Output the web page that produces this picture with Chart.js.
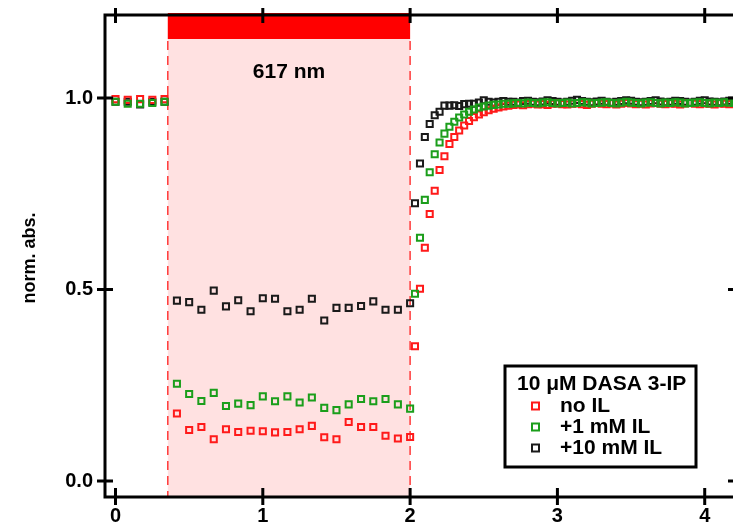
<!DOCTYPE html>
<html><head><meta charset="utf-8">
<script src="https://cdn.jsdelivr.net/npm/chart.js@4.4.1/dist/chart.umd.min.js"></script>
<style>html,body{margin:0;padding:0;background:#fff;overflow:hidden}#wrap{width:733px;height:524px;position:relative}</style>
</head><body><div id="wrap"><canvas id="c" width="733" height="524"></canvas></div>
<script>
// ---- data ----
const preTime = [0, 0.083, 0.167, 0.25, 0.333];
const darkTime = [0.417, 0.5, 0.583, 0.667, 0.75, 0.833, 0.917, 1.0, 1.083, 1.167,
  1.25, 1.333, 1.417, 1.5, 1.583, 1.667, 1.75, 1.833, 1.917, 2.0];
const recTime = [2.033, 2.067, 2.1, 2.133, 2.167, 2.2, 2.233, 2.267, 2.3, 2.333,
  2.367, 2.4, 2.433, 2.467, 2.5, 2.533, 2.567, 2.6, 2.633, 2.667,
  2.7, 2.733, 2.767, 2.8, 2.833, 2.867, 2.9, 2.933, 2.967, 3.0,
  3.033, 3.067, 3.1, 3.133, 3.167, 3.2, 3.233, 3.267, 3.3, 3.333,
  3.367, 3.4, 3.433, 3.467, 3.5, 3.533, 3.567, 3.6, 3.633, 3.667,
  3.7, 3.733, 3.767, 3.8, 3.833, 3.867, 3.9, 3.933, 3.967, 4.0,
  4.033, 4.067, 4.1, 4.133, 4.167, 4.2];

const noIL_pre = [0.997, 0.995, 0.997, 0.995, 0.997];
const noIL_dark = [0.176, 0.133, 0.141, 0.109, 0.135, 0.128, 0.131, 0.13, 0.127, 0.128,
  0.135, 0.144, 0.114, 0.109, 0.154, 0.141, 0.141, 0.118, 0.111, 0.115];
const noIL_rec = [0.352, 0.502, 0.609, 0.697, 0.758, 0.812, 0.848, 0.880, 0.898, 0.915,
  0.928, 0.940, 0.950, 0.957, 0.963, 0.968, 0.972, 0.975, 0.978, 0.980,
  0.982, 0.983, 0.981, 0.984, 0.985, 0.983, 0.984, 0.982, 0.985, 0.986,
  0.984, 0.983, 0.985, 0.986, 0.984, 0.982, 0.985, 0.987, 0.985, 0.984,
  0.986, 0.983, 0.985, 0.987, 0.986, 0.984, 0.985, 0.983, 0.986, 0.987,
  0.985, 0.984, 0.986, 0.985, 0.983, 0.986, 0.987, 0.985, 0.984, 0.986,
  0.985, 0.983, 0.986, 0.985, 0.984, 0.986];

const mM1_pre = [0.99, 0.985, 0.985, 0.987, 0.99];
const mM1_dark = [0.254, 0.227, 0.209, 0.23, 0.196, 0.202, 0.198, 0.221, 0.208, 0.221,
  0.205, 0.218, 0.191, 0.185, 0.2, 0.214, 0.208, 0.214, 0.2, 0.189];
const mM1_rec = [0.489, 0.635, 0.734, 0.806, 0.853, 0.884, 0.907, 0.925, 0.938, 0.949,
  0.957, 0.964, 0.970, 0.975, 0.978, 0.980, 0.982, 0.983, 0.985, 0.985,
  0.986, 0.987, 0.986, 0.988, 0.987, 0.986, 0.988, 0.989, 0.987, 0.986,
  0.987, 0.988, 0.986, 0.987, 0.989, 0.988, 0.986, 0.987, 0.988, 0.989,
  0.987, 0.986, 0.988, 0.99, 0.988, 0.987, 0.986, 0.988, 0.989, 0.987,
  0.986, 0.988, 0.987, 0.989, 0.988, 0.986, 0.987, 0.988, 0.989, 0.987,
  0.986, 0.988, 0.987, 0.989, 0.988, 0.987];

const mM10_pre = [0.99, 0.99, 0.983, 0.99, 0.99];
const mM10_dark = [0.471, 0.467, 0.447, 0.497, 0.456, 0.472, 0.443, 0.477, 0.476, 0.443,
  0.447, 0.476, 0.419, 0.452, 0.452, 0.457, 0.469, 0.447, 0.447, 0.464];
const mM10_rec = [0.725, 0.829, 0.898, 0.932, 0.955, 0.964, 0.980, 0.980, 0.981, 0.979,
  0.984, 0.985, 0.985, 0.988, 0.994, 0.990, 0.988, 0.990, 0.992, 0.990,
  0.99, 0.988, 0.992, 0.993, 0.99, 0.989, 0.991, 0.994, 0.992, 0.99,
  0.988, 0.99, 0.993, 0.995, 0.992, 0.99, 0.989, 0.991, 0.993, 0.99,
  0.988, 0.99, 0.992, 0.994, 0.993, 0.99, 0.989, 0.99, 0.992, 0.994,
  0.991, 0.989, 0.99, 0.993, 0.992, 0.99, 0.988, 0.99, 0.993, 0.994,
  0.991, 0.99, 0.989, 0.991, 0.993, 0.99];

const xTicks = [0, 1, 2, 3, 4];
const yTicks = [0.0, 0.5, 1.0];
const seriesLabels = ['no IL', '+1 mM IL', '+10 mM IL'];
const legendTitle = '10 \u03bcM DASA 3-IP';
const bandLabel = '617 nm';
const yTitle = 'norm. abs.';
const illumStart = 0.355, illumEnd = 2.0;

// ---- style ----
const FONT = "'Liberation Sans', Arial, Helvetica, sans-serif";
const RED = '#ff1a1a', GREEN = '#1b9e1b', BLACK = '#1a1a1a';
const X_MIN = -0.0713, X_MAX = 4.192, Y_MIN = -0.0418, Y_MAX = 1.2167;

const time = preTime.concat(darkTime, recTime);
function pts(pre, dark, rec) {
  return pre.concat(dark, rec).map((v, i) => ({ x: time[i], y: v }));
}
function ds(label, data, color) {
  return { label, data, borderColor: color, backgroundColor: 'rgba(0,0,0,0)',
    pointStyle: 'rect', pointRadius: 4.3, pointBorderWidth: 2, borderWidth: 2,
    showLine: false, pointHoverRadius: 4.3 };
}
function noPad(s) { s.paddingTop = 0; s.paddingBottom = 0; s.paddingLeft = 0; s.paddingRight = 0; }

const decor = {
  id: 'decor',
  beforeDatasetsDraw(chart) {
    const { ctx, chartArea: a, scales: { x, y } } = chart;
    const xs = x.getPixelForValue(illumStart), xe = x.getPixelForValue(illumEnd);
    ctx.save();
    ctx.fillStyle = '#ffe1e1';
    ctx.fillRect(xs, a.top, xe - xs, a.bottom - a.top);
    ctx.fillStyle = '#ff0000';
    ctx.fillRect(xs, a.top - 2, xe - xs, 26);
    ctx.strokeStyle = '#ff3a3a';
    ctx.lineWidth = 1.5;
    ctx.setLineDash([9, 6]);
    [xs, xe].forEach(px => {
      ctx.beginPath(); ctx.moveTo(px, a.top + 26); ctx.lineTo(px, a.bottom); ctx.stroke();
    });
    ctx.setLineDash([]);
    ctx.fillStyle = '#000';
    ctx.font = 'bold 21px ' + FONT;
    ctx.textAlign = 'center'; ctx.textBaseline = 'middle';
    ctx.fillText(bandLabel, (xs + xe) / 2, 72);
    ctx.restore();
  },
  afterDatasetsDraw(chart) {
    const { ctx, chartArea: a, scales: { x, y } } = chart;
    ctx.save();
    ctx.strokeStyle = '#000'; ctx.lineWidth = 3; ctx.lineCap = 'butt';
    ctx.beginPath();
    ctx.moveTo(a.left, a.top - 1.5); ctx.lineTo(a.left, a.bottom + 1.5);
    ctx.moveTo(a.left - 1.5, a.bottom); ctx.lineTo(a.right, a.bottom);
    ctx.moveTo(a.left - 1.5, a.top); ctx.lineTo(a.right, a.top);
    xTicks.forEach(v => {
      const px = x.getPixelForValue(v);
      ctx.moveTo(px, a.bottom - 9); ctx.lineTo(px, a.bottom + 8);
      ctx.moveTo(px, a.top - 7); ctx.lineTo(px, a.top + 8);
    });
    yTicks.forEach(v => {
      const py = y.getPixelForValue(v);
      ctx.moveTo(a.left - 8, py); ctx.lineTo(a.left + 8, py);
      ctx.moveTo(a.right - 5, py); ctx.lineTo(a.right, py);
    });
    ctx.stroke();
    // y title
    ctx.save();
    ctx.translate(30, (a.top + a.bottom) / 2 + 2);
    ctx.rotate(-Math.PI / 2);
    ctx.fillStyle = '#000';
    ctx.font = 'bold 18px ' + FONT;
    ctx.textAlign = 'center'; ctx.textBaseline = 'middle';
    ctx.fillText(yTitle, 0, 0);
    ctx.restore();
    // legend
    const lx = 505, ly = 366, lw = 191, lh = 101;
    ctx.fillStyle = '#fff';
    ctx.fillRect(lx, ly, lw, lh);
    ctx.lineWidth = 3; ctx.strokeStyle = '#000';
    ctx.strokeRect(lx, ly, lw, lh);
    ctx.fillStyle = '#000';
    ctx.font = 'bold 21px ' + FONT;
    ctx.textAlign = 'left'; ctx.textBaseline = 'middle';
    ctx.fillText(legendTitle, 517, 384);
    const cols = [RED, GREEN, BLACK];
    const rowsY = [406, 427, 448];
    seriesLabels.forEach((t, i) => {
      ctx.lineWidth = 2; ctx.strokeStyle = cols[i];
      ctx.strokeRect(532, rowsY[i] - 3.5, 7, 7);
      ctx.fillStyle = '#000';
      ctx.fillText(t, 560, rowsY[i]);
    });
    ctx.restore();
  }
};

new Chart(document.getElementById('c').getContext('2d'), {
  type: 'scatter',
  data: { datasets: [
    ds(seriesLabels[1], pts(mM1_pre, mM1_dark, mM1_rec), GREEN),
    ds(seriesLabels[0], pts(noIL_pre, noIL_dark, noIL_rec), RED),
    ds(seriesLabels[2], pts(mM10_pre, mM10_dark, mM10_rec), BLACK)
  ] },
  options: {
    responsive: false, animation: false, devicePixelRatio: 1,
    layout: { autoPadding: false, padding: { top: 15, right: 0, bottom: 0, left: 0 } },
    plugins: { legend: { display: false }, tooltip: { enabled: false } },
    scales: {
      x: { type: 'linear', min: X_MIN, max: X_MAX,
        afterBuildTicks: s => { s.ticks = xTicks.map(v => ({ value: v })); },
        ticks: { font: { family: FONT, size: 20, weight: 'bold' }, color: '#000', padding: 7,
          maxRotation: 0, autoSkip: false, callback: v => String(v) },
        grid: { display: false, drawTicks: false }, border: { display: false },
        afterFit: s => { s.height = 27; noPad(s); } },
      y: { type: 'linear', min: Y_MIN, max: Y_MAX,
        afterBuildTicks: s => { s.ticks = yTicks.map(v => ({ value: v })); },
        ticks: { font: { family: FONT, size: 20, weight: 'bold' }, color: '#000', padding: 12,
          autoSkip: false, callback: v => v.toFixed(1) },
        grid: { display: false, drawTicks: false }, border: { display: false },
        afterFit: s => { s.width = 105; noPad(s); } }
    }
  },
  plugins: [decor]
});
</script>
</body></html>
